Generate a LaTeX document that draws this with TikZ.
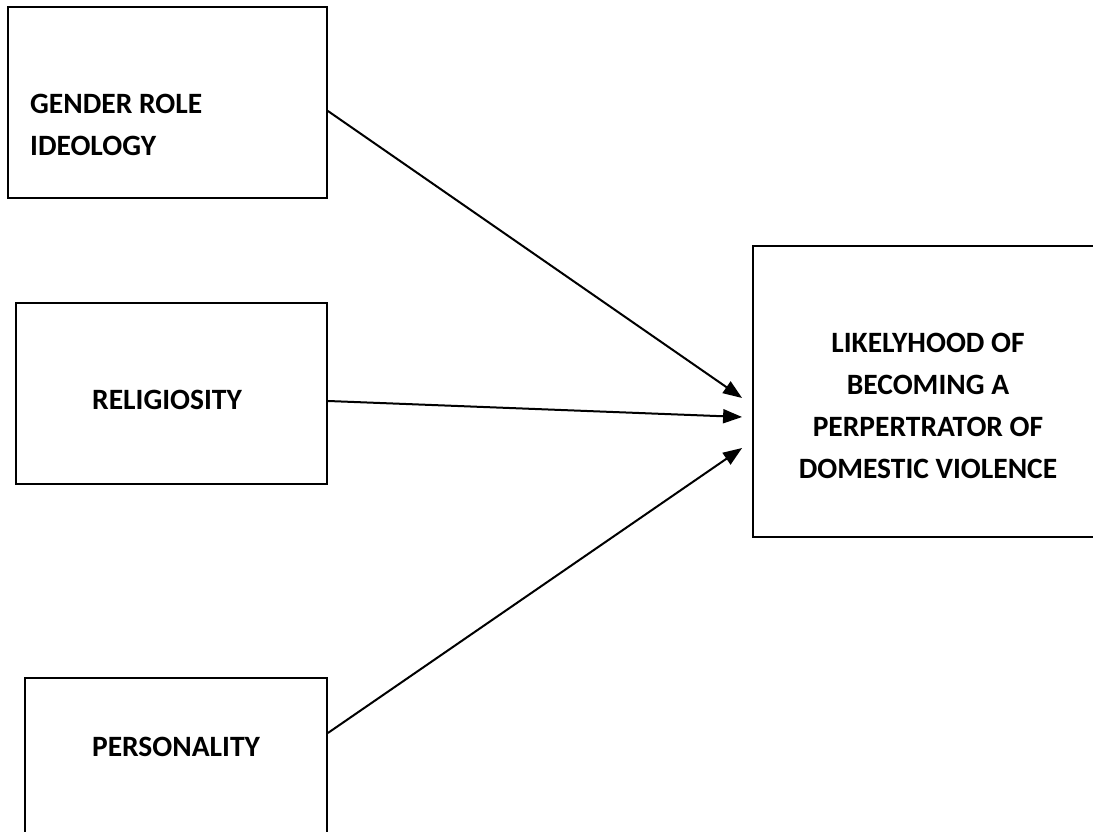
\documentclass[tikz,border=0pt]{standalone}
\usepackage{fontspec}
\setmainfont{Carlito}
\usetikzlibrary{arrows.meta}
\begin{document}
\begin{tikzpicture}[x=1pt,y=1pt,
  box/.style={draw, line width=1.8pt, inner sep=0pt},
  lbl/.style={font=\fontsize{29.5}{35}\selectfont\bfseries, inner sep=0pt},
  arr/.style={-{Triangle[length=19pt,width=14pt]}, line width=2pt}]
\useasboundingbox (0,0) rectangle (1093,832);
\fill[white] (0,0) rectangle (1093,832);
\clip (0,0) rectangle (1093,832);
% boxes
\node[box, minimum width=319pt, minimum height=191pt] (b1) at (167.5,729.5) {};
\node[box, minimum width=311pt, minimum height=181pt] (b2) at (171.5,438.5) {};
\node[box, minimum width=302pt, minimum height=222pt] (b3) at (176,43) {};
\node[box, minimum width=357pt, minimum height=291pt] (t) at (931.5,440.5) {};
% texts
\node[lbl, anchor=base west] (g1) at (30,718) {GENDER ROLE};
\node[lbl, anchor=base west] (g2) at (30,676) {IDEOLOGY};
\node[lbl, anchor=base] (r1) at (167,422) {RELIGIOSITY};
\node[lbl, anchor=base] (p1) at (176,75) {PERSONALITY};
\node[lbl, anchor=base] (t1) at (928,479) {LIKELYHOOD OF};
\node[lbl, anchor=base] (t2) at (928,437) {BECOMING A};
\node[lbl, anchor=base] (t3) at (928,395) {PERPERTRATOR OF};
\node[lbl, anchor=base] (t4) at (928,353) {DOMESTIC VIOLENCE};
% connectors
\draw[arr] ([yshift=-8.5pt]b1.east) -- ([xshift=-10pt,yshift=-6.5pt]t.west);
\draw[arr] ([yshift=-7.5pt]b2.east) -- ([xshift=-10pt,yshift=-25.5pt]t.west);
\draw[arr] ([yshift=56pt]b3.east) -- ([xshift=-10pt,yshift=-56.5pt]t.west);
\end{tikzpicture}
\end{document}
